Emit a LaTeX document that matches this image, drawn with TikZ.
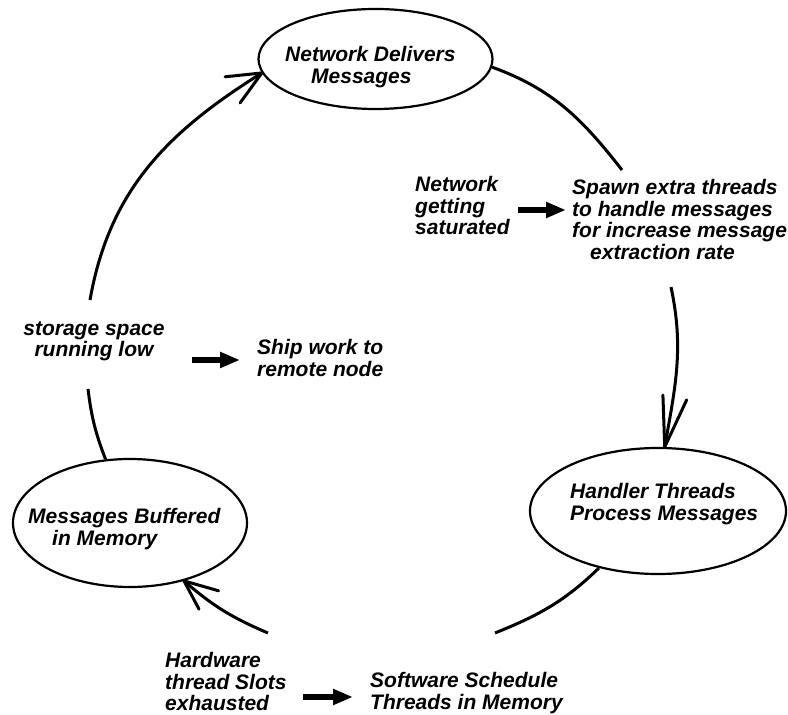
\documentclass[tikz,border=0pt]{standalone}
\usepackage{fontspec}
\setmainfont{Liberation Sans}
\usetikzlibrary{shapes.geometric,arrows.meta}

\tikzset{
  bubble/.style={ellipse, draw, line width=2.2pt, inner sep=0pt},
  ring/.style={line width=3pt},
  barb/.style={line width=3pt, line cap=round},
  txt/.style={font=\fontsize{21}{21.5}\selectfont\bfseries\itshape,
              inner sep=0pt, align=left, anchor=north west},
  fat/.style={line width=5.5pt, -{Triangle[length=20pt, width=15pt]}}
}

\begin{document}
\begin{tikzpicture}[x=1pt, y=1pt]
  \fill[white] (0,0) rectangle (788,715);
  \useasboundingbox (0,0) rectangle (788,715);

  % the three stages of the cycle
  \node[bubble, minimum width=234pt, minimum height=100pt] (net)  at (375.5,656) {};
  \node[bubble, minimum width=256pt, minimum height=126pt] (hand) at (658,204) {};
  \node[bubble, minimum width=234pt, minimum height=128pt] (buf)  at (130,192) {};

  \node[txt] (nettext)  at (285,668.5) {Network Delivers\\\hspace*{26pt}Messages};
  \node[txt] (handtext) at (570,231.5) {Handler Threads\\Process Messages};
  \node[txt] (buftext)  at (28,206.5)  {Messages Buffered\\\hspace*{24pt}in Memory};

  % conditions and reactions
  \node[txt] (sat)   at (415,538.5) {Network\\getting\\saturated};
  \node[txt] (spawn) at (572,535.5) {Spawn extra threads\\to handle messages\\for increase message\\\hspace*{18pt}extraction rate};
  \node[txt, align=center, anchor=north] (storage) at (94,393.5) {storage space\\running low};
  \node[txt] (ship)  at (257,375.5) {Ship work to\\remote node};
  \node[txt] (hw)    at (165,62.5)  {Hardware\\thread Slots\\exhausted};
  \node[txt] (sw)    at (370,42.5)  {Software Schedule\\Threads in Memory};

  \draw[fat] ([xshift=8.5pt,yshift=-33.5pt]sat.north east) -- ([xshift=-6pt,yshift=-30.5pt]spawn.north west);
  \draw[fat] ([xshift=27.4pt,yshift=-38.5pt]storage.north east) -- ([xshift=-17pt,yshift=-20.5pt]ship.north west);
  \draw[fat] ([xshift=16.6pt,yshift=-44.5pt]hw.north east) -- ([xshift=-17pt,yshift=-24.5pt]sw.north west);

  % free ends of the broken ring
  \coordinate (trEnd)   at (622,545);
  \coordinate (rtStart) at (671,428);
  \coordinate (btEnd)   at (495,82);
  \coordinate (blStart) at (268,82);
  \coordinate (llEnd)   at (88,326);
  \coordinate (luStart) at (90,415);

  % ring segments
  \draw[ring] (net.-4) to[out=-20, in=128] (trEnd);
  \draw[ring] (rtStart) to[out=-78, in=80] (hand.84);
  \draw[ring] (hand.224) to[out=-136, in=22] (btEnd);
  \draw[ring] (blStart) to[out=157, in=-41] (buf.-47);
  \draw[ring] (buf.111) to[out=111, in=-83] (llEnd);
  \draw[ring] (luStart) to[out=80, in=-148] (net.187);

  % open arrowheads on the ring
  \draw[barb] (net.187) -- ++(186:37) (net.187) -- ++(234:37);
  \draw[barb] (hand.84) -- ++(92:52) (hand.84) -- ++(65:52);
  \draw[barb] (buf.-47) -- ++(-16:36) (buf.-47) -- ++(-62:32);
\end{tikzpicture}
\end{document}
